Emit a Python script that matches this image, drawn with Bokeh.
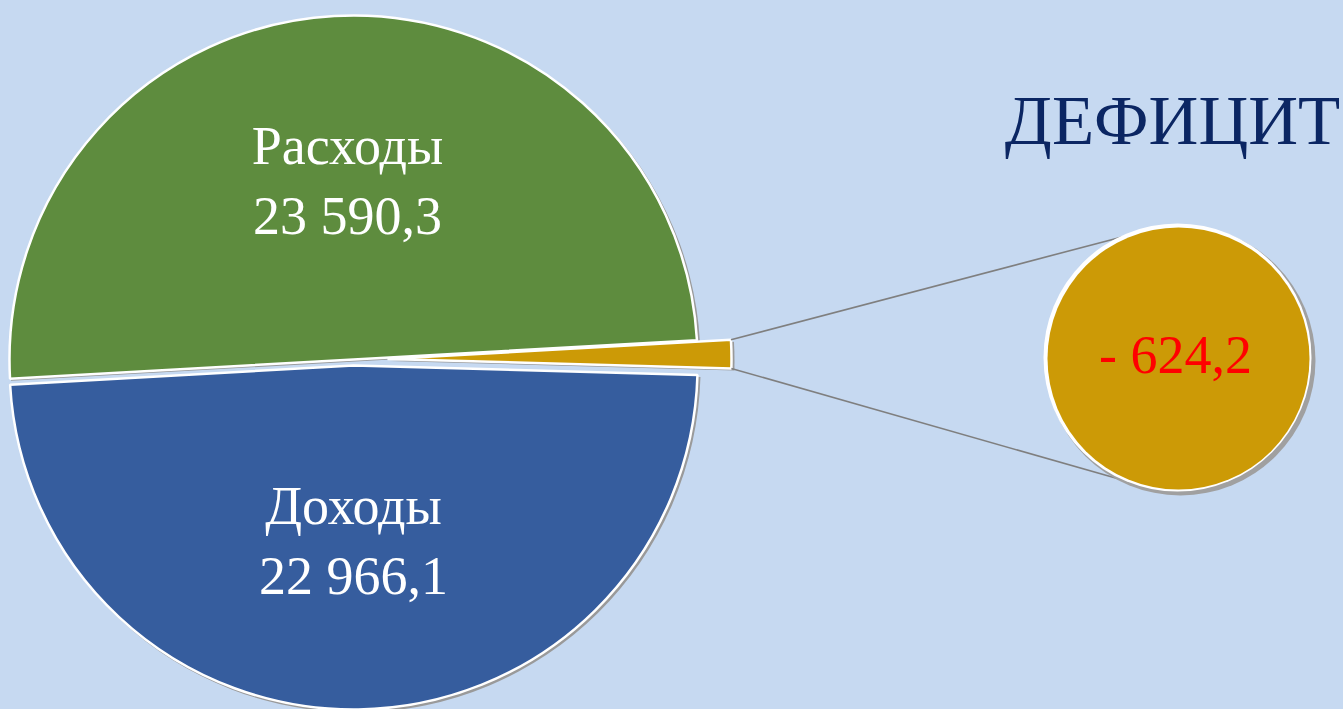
import math
from bokeh.plotting import figure
from bokeh.models import Range1d
from bokeh.core.properties import value
from bokeh.embed import file_html
from bokeh.resources import INLINE

# ---- data ----
categories = ["Расходы", "Доходы", "ДЕФИЦИТ"]
values = [23590.3, 22966.1, 624.2]
colors = ["#5E8C3E", "#365D9E", "#CC9A06"]
title_text = "ДЕФИЦИТ"

def fmt(v):
    return f"{v:,.1f}".replace(",", " ").replace(".", ",")

value_labels = [fmt(values[0]), fmt(values[1]), "- " + fmt(values[2])]

# ---- layout (pixel-like data units) ----
W, H = 1343, 709
BG = "#C6D9F1"
FONT = "Liberation Serif"

p = figure(width=W, height=H, output_backend="svg", toolbar_location=None,
           x_range=Range1d(0, W), y_range=Range1d(0, H), min_border=0)
p.axis.visible = False
p.grid.visible = False
p.outline_line_color = None
p.background_fill_color = BG
p.border_fill_color = BG

cx, cy, R = 353, 350, 344
start = math.radians(3.2)
total = sum(values)
angs = [2 * math.pi * v / total for v in values]
starts = [start, start + angs[0], start + angs[0] + angs[1]]
ends = [starts[0] + angs[0], starts[1] + angs[1], starts[2] + angs[2]]
explode = [0, 6, 34]

centers = []
for i in range(3):
    mid = (starts[i] + ends[i]) / 2
    centers.append((cx + explode[i] * math.cos(mid), cy + explode[i] * math.sin(mid)))

# shadows
for i in range(3):
    x0, y0 = centers[i]
    p.wedge(x=[x0 + 2], y=[y0 - 2], radius=R + 1, start_angle=starts[i], end_angle=ends[i],
            fill_color="#9A9A9A", line_color=None)
# wedges
for i in range(3):
    x0, y0 = centers[i]
    p.wedge(x=[x0], y=[y0], radius=R, start_angle=starts[i], end_angle=ends[i],
            fill_color=colors[i], line_color="white", line_width=2.5)

# connector lines from deficit wedge to secondary circle
scx, scy, sr = 1178, 351, 133
gx, gy = centers[2]
top_a, bot_a = math.radians(112), math.radians(248)
p.segment(x0=[gx + R * math.cos(ends[2]), gx + R * math.cos(starts[2])],
          y0=[gy + R * math.sin(ends[2]), gy + R * math.sin(starts[2])],
          x1=[scx + sr * math.cos(top_a), scx + sr * math.cos(bot_a)],
          y1=[scy + sr * math.sin(top_a), scy + sr * math.sin(bot_a)],
          line_color="#7F7F7F", line_width=1.6)

# secondary circle
p.circle(x=[scx + 2], y=[scy - 2], radius=sr + 2, fill_color="#A0A0A0", line_color=None)
p.circle(x=[scx - 1], y=[scy + 1], radius=sr + 1, fill_color="white", line_color=None)
p.circle(x=[scx], y=[scy], radius=sr - 2, fill_color=colors[2], line_color=None)

# labels
dy = 18
p.text(x=[347, 347], y=[546 + dy, 476 + dy], text=[categories[0], value_labels[0]],
       text_font=value(FONT), text_font_size="54px", text_color="white",
       text_align="center", text_baseline="alphabetic")
p.text(x=[353, 353], y=[186 + dy, 116 + dy], text=[categories[1], value_labels[1]],
       text_font=value(FONT), text_font_size="54px", text_color="white",
       text_align="center", text_baseline="alphabetic")
p.text(x=[1175], y=[337 + dy], text=[value_labels[2]],
       text_font=value(FONT), text_font_size="54px", text_color="#FF0000",
       text_align="center", text_baseline="alphabetic")
p.text(x=[1172], y=[571 + dy], text=[title_text],
       text_font=value(FONT), text_font_size="69px", text_color="#0B2663",
       text_align="center", text_baseline="alphabetic")

html = file_html(p, INLINE)
html = html.replace("</head>", "<style>body{background-color:%s;}</style></head>" % BG, 1)
open("out.html", "w").write(html)
